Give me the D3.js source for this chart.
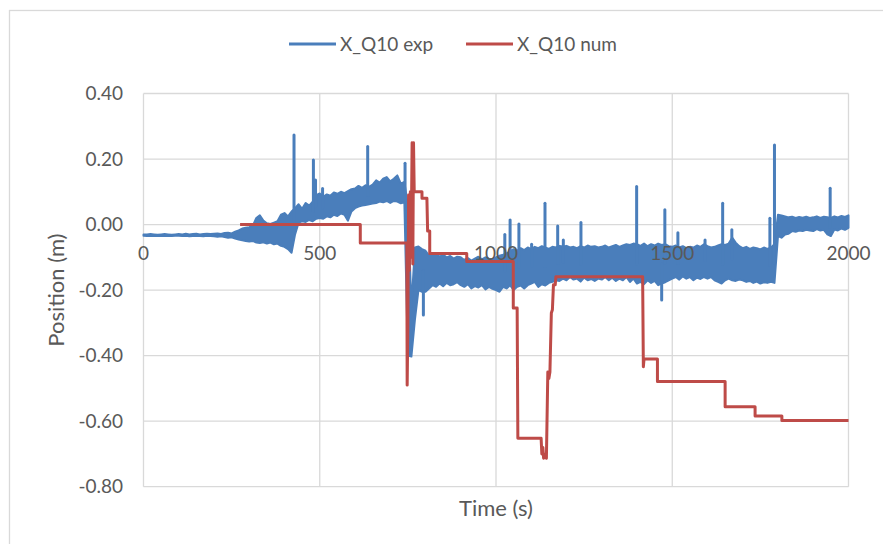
<!DOCTYPE html>
<html>
<head>
<meta charset="utf-8">
<script src="https://cdn.jsdelivr.net/npm/d3@7"></script>
<style>
  body { margin: 0; background: #fff; }
  svg { display: block; }
  text { font-family: Lato, "Open Sans", sans-serif; fill: #595959; }
</style>
</head>
<body>
<svg id="chart" width="883" height="544"></svg>
<script>
// ---- data ----------------------------------------------------------------
const xTicks = [0, 500, 1000, 1500, 2000];
const yTicks = [0.4, 0.2, 0, -0.2, -0.4, -0.6, -0.8];
const yTickLabels = ["0.40", "0.20", "0.00", "-0.20", "-0.40", "-0.60", "-0.80"];

// Measured position, sampled every 10 s: upper and lower edge of the signal
const expHigh = [
  -0.030,-0.030,-0.029,-0.030,-0.031,-0.030,-0.029,-0.030,-0.031,-0.030,
  -0.029,-0.030,-0.028,-0.030,-0.029,-0.028,-0.030,-0.029,-0.028,-0.029,
  -0.028,-0.027,-0.029,-0.026,-0.025,-0.027,-0.022,-0.018,-0.012,-0.010,
  -0.008,-0.004,0.020,0.028,0.012,0.004,0.002,0.006,0.010,0.030,
  0.035,0.025,0.040,0.050,0.062,0.048,0.066,0.058,0.070,0.090,
  0.095,0.085,0.092,0.088,0.098,0.094,0.100,0.096,0.102,0.108,
  0.110,0.118,0.112,0.120,0.115,0.122,0.135,0.128,0.140,0.145,
  0.132,0.140,0.150,0.125,0.130,0.060,-0.250,-0.070,-0.067,-0.075,
  -0.080,-0.095,-0.090,-0.087,-0.098,-0.092,-0.100,-0.096,-0.104,-0.098,
  -0.100,-0.108,-0.102,-0.110,-0.104,-0.098,-0.106,-0.100,-0.104,-0.106,
  -0.100,-0.095,-0.092,-0.088,-0.082,-0.075,-0.080,-0.072,-0.078,-0.070,
  -0.075,-0.068,-0.072,-0.066,-0.070,-0.074,-0.068,-0.070,-0.065,-0.067,
  -0.065,-0.070,-0.068,-0.072,-0.066,-0.070,-0.064,-0.068,-0.066,-0.070,
  -0.068,-0.064,-0.070,-0.066,-0.062,-0.068,-0.064,-0.060,-0.062,-0.058,
  -0.060,-0.065,-0.058,-0.066,-0.060,-0.064,-0.058,-0.062,-0.060,-0.066,
  -0.068,-0.064,-0.070,-0.066,-0.072,-0.068,-0.070,-0.064,-0.068,-0.060,
  -0.066,-0.070,-0.068,-0.064,-0.060,-0.062,-0.058,-0.040,-0.055,-0.066,
  -0.072,-0.068,-0.074,-0.070,-0.072,-0.076,-0.070,-0.074,-0.070,-0.060,
  0.030,0.028,0.025,0.022,0.024,0.020,0.023,0.021,0.024,0.020,
  0.022,0.025,0.020,0.024,0.022,0.020,0.025,0.022,0.026,0.023,0.028
];
const expLow = [
  -0.034,-0.035,-0.034,-0.035,-0.034,-0.035,-0.034,-0.035,-0.035,-0.034,
  -0.034,-0.035,-0.034,-0.036,-0.035,-0.034,-0.035,-0.036,-0.034,-0.035,
  -0.036,-0.037,-0.036,-0.038,-0.040,-0.039,-0.043,-0.046,-0.048,-0.050,
  -0.052,-0.050,-0.055,-0.056,-0.054,-0.058,-0.055,-0.060,-0.058,-0.065,
  -0.068,-0.075,-0.086,-0.030,0.006,0.010,0.008,0.014,0.010,0.018,
  0.020,0.018,0.025,0.022,0.030,0.026,0.034,0.030,0.012,0.040,
  0.050,0.055,0.058,0.060,0.062,0.064,0.066,0.070,0.068,0.072,
  0.066,0.072,0.070,0.065,0.068,-0.400,-0.403,-0.290,-0.200,-0.205,
  -0.205,-0.195,-0.185,-0.190,-0.180,-0.188,-0.178,-0.185,-0.182,-0.176,
  -0.185,-0.190,-0.182,-0.195,-0.188,-0.192,-0.185,-0.198,-0.190,-0.196,
  -0.200,-0.205,-0.190,-0.195,-0.185,-0.200,-0.190,-0.186,-0.195,-0.185,
  -0.180,-0.175,-0.190,-0.182,-0.186,-0.178,-0.175,-0.170,-0.172,-0.165,
  -0.170,-0.160,-0.168,-0.165,-0.174,-0.162,-0.170,-0.166,-0.172,-0.165,
  -0.168,-0.160,-0.170,-0.162,-0.172,-0.165,-0.170,-0.160,-0.175,-0.165,
  -0.180,-0.175,-0.182,-0.170,-0.178,-0.172,-0.185,-0.180,-0.176,-0.170,
  -0.165,-0.160,-0.168,-0.158,-0.165,-0.160,-0.170,-0.162,-0.166,-0.160,
  -0.165,-0.160,-0.170,-0.175,-0.180,-0.170,-0.165,-0.170,-0.172,-0.168,
  -0.170,-0.175,-0.172,-0.178,-0.174,-0.180,-0.176,-0.178,-0.175,-0.178,
  -0.035,-0.040,-0.030,-0.028,-0.020,-0.022,-0.018,-0.020,-0.016,-0.018,
  -0.020,-0.014,-0.018,-0.016,-0.030,-0.035,-0.015,-0.018,-0.012,-0.016,-0.010
];
const expTime = d3.range(0, 2001, 10);

// Short-lived peaks of the measured signal (time, value)
const spikeT = [427, 482, 488, 508, 636, 742, 794, 1025, 1040, 1065, 1101, 1139, 1175, 1191, 1241, 1399, 1470, 1479, 1516, 1593, 1643, 1669, 1777, 1790, 1948];
const spikeV = [0.273, 0.197, 0.136, 0.110, 0.238, 0.187, -0.276, -0.030, 0.014, 0.002, -0.060, 0.065, -0.004, -0.047, 0.006, 0.116, -0.230, 0.045, -0.025, -0.047, 0.065, -0.016, 0.019, 0.243, 0.111];

// Simulated position (step-wise)
const numT = [274, 615, 615, 747, 748, 750, 752, 754, 757, 759, 762, 764, 766, 768, 790, 790, 804, 806, 812, 812,
  917, 917, 1049, 1049, 1060, 1062, 1128, 1130, 1133, 1135, 1140, 1143, 1147, 1150, 1153, 1157, 1160, 1163, 1168, 1170,
  1416, 1418, 1420, 1458, 1458, 1650, 1650, 1735, 1735, 1811, 1811, 2000];
const numV = [0, 0, -0.056, -0.056, -0.49, -0.30, 0.09, -0.14, 0.10, -0.10, 0.25, -0.12, 0.25, 0.10, 0.10, 0.08, 0.08, -0.02, -0.02, -0.088,
  -0.088, -0.113, -0.113, -0.255, -0.255, -0.652, -0.652, -0.70, -0.68, -0.713, -0.70, -0.713, -0.45, -0.47, -0.45, -0.27, -0.26, -0.184, -0.184, -0.159,
  -0.159, -0.434, -0.41, -0.41, -0.479, -0.479, -0.556, -0.556, -0.584, -0.584, -0.598, -0.598];

const seriesNames = ["X_Q10 exp", "X_Q10 num"];
const seriesColors = ["#4a7ebb", "#be4b48"];

// ---- layout ---------------------------------------------------------------
const svg = d3.select("#chart");
const plot = { left: 143.5, right: 848.5, top: 93.5, bottom: 486.7 };
const x = d3.scaleLinear().domain([0, 2000]).range([plot.left, plot.right]);
const y = d3.scaleLinear().domain([-0.8, 0.4]).range([plot.bottom, plot.top]);
const gridColor = "#d9d9d9";

svg.append("rect").attr("width", 883).attr("height", 544).attr("fill", "#fff");
// chart frame
svg.append("rect").attr("x", 9.5).attr("y", 10.5).attr("width", 1000).attr("height", 1000)
  .attr("fill", "none").attr("stroke", gridColor).attr("stroke-width", 1.3);

// gridlines
svg.append("g").selectAll("line").data(yTicks).join("line")
  .attr("x1", plot.left).attr("x2", plot.right)
  .attr("y1", d => y(d)).attr("y2", d => y(d))
  .attr("stroke", gridColor).attr("stroke-width", 1.3);
svg.append("g").selectAll("line").data(xTicks).join("line")
  .attr("x1", d => x(d)).attr("x2", d => x(d))
  .attr("y1", plot.top).attr("y2", plot.bottom)
  .attr("stroke", gridColor).attr("stroke-width", 1.3);

// y tick labels
svg.append("g").selectAll("text").data(yTicks).join("text")
  .attr("x", 123).attr("y", d => y(d) + 6.5)
  .attr("text-anchor", "end").attr("font-size", 19)
  .text((d, i) => yTickLabels[i]);

// axis titles
svg.append("text").attr("x", x(1000)).attr("y", 516)
  .attr("text-anchor", "middle").attr("font-size", 22).text("Time (s)");
svg.append("text")
  .attr("transform", `translate(${64},${(plot.top + plot.bottom) / 2}) rotate(-90)`)
  .attr("text-anchor", "middle").attr("font-size", 22).text("Position (m)");

// measured series: band between lower and upper edge
const band = d3.area()
  .x((d, i) => x(expTime[i]))
  .y0((d, i) => y(expLow[i]))
  .y1((d, i) => y(expHigh[i]));
svg.append("path").datum(expTime)
  .attr("d", band)
  .attr("fill", seriesColors[0]).attr("stroke", seriesColors[0])
  .attr("stroke-width", 2).attr("stroke-linejoin", "round");

// measured peaks
svg.append("g").selectAll("line").data(spikeT).join("line")
  .attr("x1", d => x(d)).attr("x2", d => x(d))
  .attr("y1", d => {
    const i = Math.round(d / 10);
    return y((expHigh[i] + expLow[i]) / 2);
  })
  .attr("y2", (d, i) => y(spikeV[i]))
  .attr("stroke", seriesColors[0]).attr("stroke-width", 3).attr("stroke-linecap", "round");

// simulated series
const line = d3.line().x((d, i) => x(numT[i])).y((d, i) => y(numV[i]));
svg.append("path").datum(numT)
  .attr("d", line)
  .attr("fill", "none").attr("stroke", seriesColors[1])
  .attr("stroke-width", 3).attr("stroke-linejoin", "round");

// x tick labels sit just below the zero line, drawn over the series
svg.append("g").selectAll("text").data(xTicks).join("text")
  .attr("x", d => x(d)).attr("y", y(0) + 35)
  .attr("text-anchor", "middle").attr("font-size", 19)
  .text(d => d);

// legend
const legend = [
  { name: seriesNames[0], color: seriesColors[0], x0: 289 },
  { name: seriesNames[1], color: seriesColors[1], x0: 466 }
];
const lg = svg.append("g").selectAll("g").data(legend).join("g");
lg.append("line")
  .attr("x1", d => d.x0).attr("x2", d => d.x0 + 47)
  .attr("y1", 44).attr("y2", 44)
  .attr("stroke", d => d.color).attr("stroke-width", 3);
lg.append("text")
  .attr("x", d => d.x0 + 51).attr("y", 50.5)
  .attr("font-size", 19)
  .text(d => d.name);
</script>
</body>
</html>
